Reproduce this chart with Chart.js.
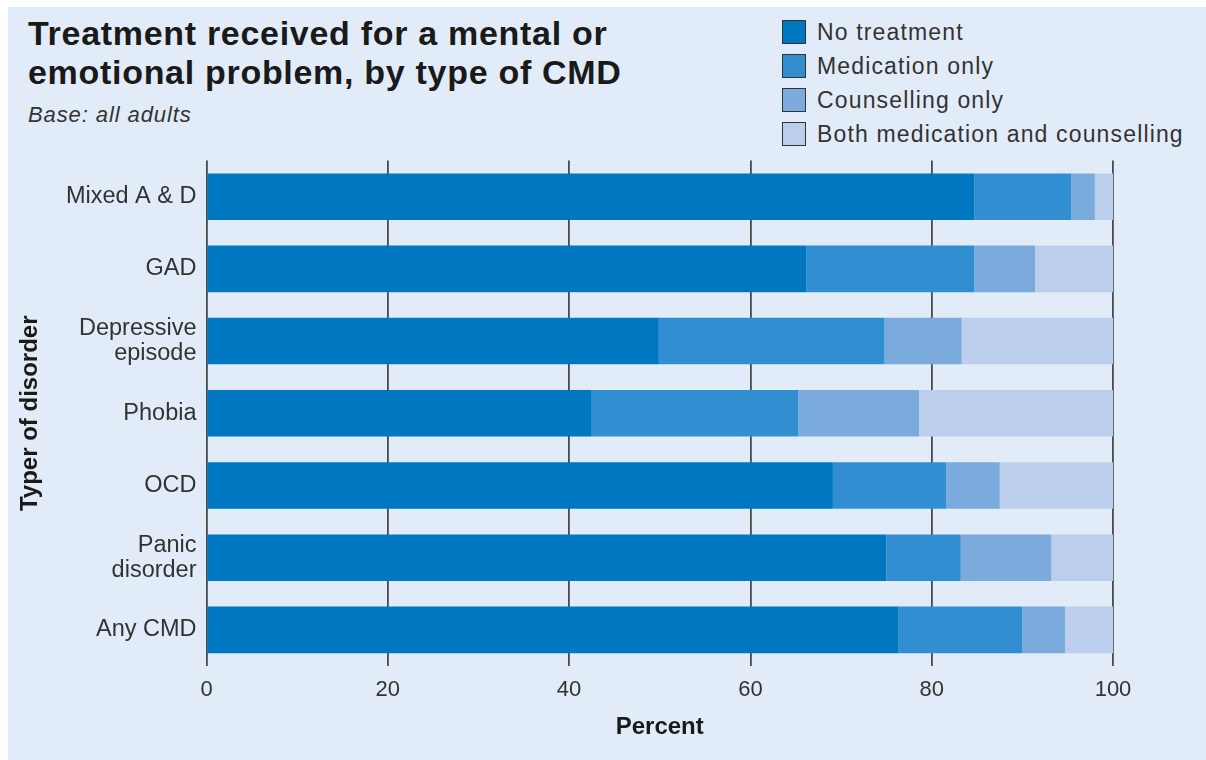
<!DOCTYPE html>
<html>
<head>
<meta charset="utf-8">
<script src="https://cdn.jsdelivr.net/npm/chart.js@4.4.1/dist/chart.umd.min.js"></script>
<style>
  html, body { margin: 0; padding: 0; background: #fff; }
  #panel {
    position: absolute; left: 8px; top: 7px; width: 1198px; height: 753px;
    background: #e2ecf8; overflow: hidden;
    font-family: "Liberation Sans", Arial, sans-serif; color: #1a1a1a;
  }
  #title {
    position: absolute; left: 20px; top: 7px; margin: 0;
    font-size: 34px; font-weight: bold; line-height: 39px; letter-spacing: 0.7px;
  }
  #subtitle {
    position: absolute; left: 20px; top: 95px;
    font-size: 22px; font-style: italic; color: #333; letter-spacing: 0.9px;
  }
  #legend { position: absolute; left: 774px; top: 8px; }
  .item { height: 34px; display: flex; align-items: center; font-size: 23px; color: #333; letter-spacing: 1.15px; }
  .swatch {
    width: 24px; height: 24px; border: 1.5px solid #333; margin-right: 11px; box-sizing: border-box;
  }
  #wrap { position: absolute; left: -8px; top: 131px; width: 1206px; height: 616px; }
</style>
</head>
<body>
<div id="panel">
  <div id="title">Treatment received for a mental or<br>emotional problem, by type of CMD</div>
  <div id="subtitle">Base: all adults</div>
  <div id="legend"></div>
  <div id="wrap"><canvas id="myChart"></canvas></div>
</div>
<script>
// disorder types, top to bottom
const categories = [
  'Mixed A & D',
  'GAD',
  ['Depressive', 'episode'],
  'Phobia',
  'OCD',
  ['Panic', 'disorder'],
  'Any CMD'
]

// percent of each group
const noTreatment    = [84.7, 66.2, 49.9, 42.5, 69.1, 75.0, 76.3]
const medicationOnly = [10.7, 18.5, 24.9, 22.8, 12.5,  8.2, 13.7]
const counsellingOnly= [ 2.6,  6.7,  8.5, 13.3,  5.9, 10.0,  4.7]
const bothTreatments = [ 2.0,  8.6, 16.7, 21.4, 12.5,  6.8,  5.3]

const seriesNames = ['No treatment', 'Medication only', 'Counselling only', 'Both medication and counselling']
const xTicks = [0, 20, 40, 60, 80, 100]

const colours = ['#0077c1', '#318fd1', '#7babdc', '#bbcfec']

const series = [noTreatment, medicationOnly, counsellingOnly, bothTreatments]

// legend built from the series names
const legend = document.getElementById('legend')
seriesNames.forEach((name, i) => {
  const row = document.createElement('div')
  row.className = 'item'
  row.innerHTML = '<span class="swatch" style="background:' + colours[i] + '"></span>' + name
  legend.appendChild(row)
})

const data = {
  labels: categories,
  datasets: series.map((vals, i) => ({
    label: seriesNames[i],
    data: vals,
    backgroundColor: colours[i],
    borderWidth: 0,
    categoryPercentage: 1,
    barPercentage: 0.645
  }))
}

const config = {
  type: 'bar',
  data: data,
  options: {
    indexAxis: 'y',
    responsive: true,
    maintainAspectRatio: false,
    animation: false,
    layout: { padding: { left: 8, right: 93, top: 17, bottom: 0 } },
    plugins: { legend: { display: false }, tooltip: { enabled: false } },
    scales: {
      x: {
        stacked: true,
        min: 0, max: 100,
        afterBuildTicks: (axis) => { axis.ticks = xTicks.map(v => ({ value: v })) },
        afterFit: (axis) => { axis.height = 88 },
        grid: { color: '#4a4a4a', lineWidth: 1.8, tickLength: 0, drawTicks: false },
        border: { display: false },
        ticks: { color: '#333', font: { family: 'Liberation Sans', size: 22 }, padding: 11 },
        title: {
          display: true, text: 'Percent', color: '#1a1a1a',
          font: { family: 'Liberation Sans', size: 24, weight: 'bold' },
          padding: { top: 4, bottom: 12 }
        }
      },
      y: {
        stacked: true,
        afterFit: (axis) => { axis.width = 198.5 },
        grid: { display: false, drawTicks: false },
        border: { display: false },
        ticks: { color: '#333', font: { family: 'Liberation Sans', size: 23.5, lineHeight: 1.07 }, padding: 10 },
        title: {
          display: true, text: 'Typer of disorder', color: '#1a1a1a',
          font: { family: 'Liberation Sans', size: 24, weight: 'bold' },
          padding: { top: 8, bottom: 0 }
        }
      }
    }
  }
}

const myChart = new Chart(document.getElementById('myChart'), config)
</script>
</body>
</html>
